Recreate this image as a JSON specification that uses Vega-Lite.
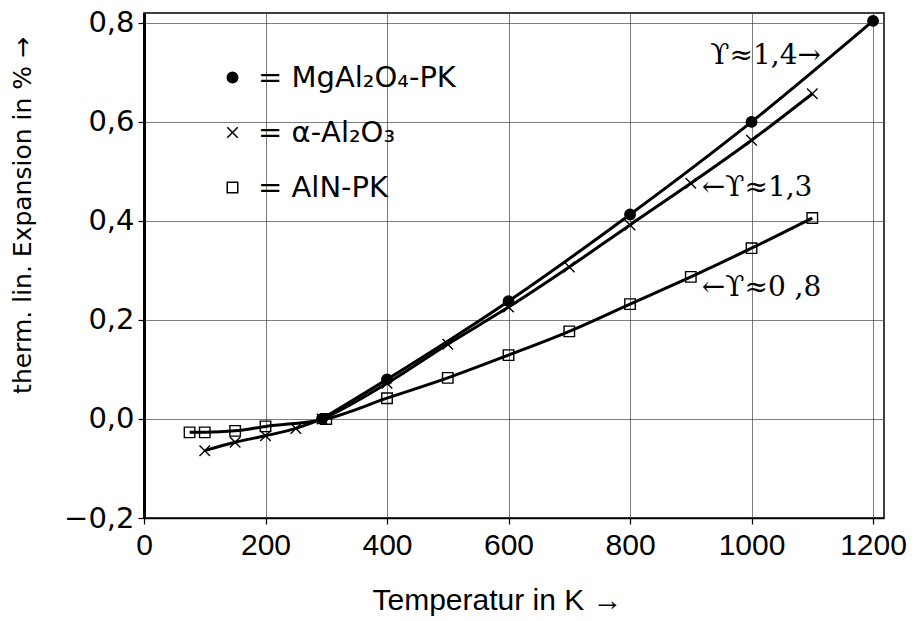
{
  "$schema": "https://vega.github.io/schema/vega-lite/v6.json",
  "width": 740,
  "height": 505,
  "autosize": {"type": "none"},
  "padding": {"left": 144, "top": 13, "right": 32, "bottom": 103},
  "background": "white",
  "config": {
    "view": {"stroke": "black", "strokeWidth": 1.5},
    "font": "DejaVu Sans"
  },
  "datasets": {
    "measurements": [
      {"series": "MgAl₂O₄-PK", "T": 293, "dL": 0.0},
      {"series": "MgAl₂O₄-PK", "T": 400, "dL": 0.080},
      {"series": "MgAl₂O₄-PK", "T": 600, "dL": 0.238},
      {"series": "MgAl₂O₄-PK", "T": 800, "dL": 0.413},
      {"series": "MgAl₂O₄-PK", "T": 1000, "dL": 0.600},
      {"series": "MgAl₂O₄-PK", "T": 1200, "dL": 0.804},
      {"series": "α-Al₂O₃", "T": 100, "dL": -0.064},
      {"series": "α-Al₂O₃", "T": 150, "dL": -0.047},
      {"series": "α-Al₂O₃", "T": 200, "dL": -0.034},
      {"series": "α-Al₂O₃", "T": 250, "dL": -0.019},
      {"series": "α-Al₂O₃", "T": 293, "dL": 0.0},
      {"series": "α-Al₂O₃", "T": 400, "dL": 0.072},
      {"series": "α-Al₂O₃", "T": 500, "dL": 0.151},
      {"series": "α-Al₂O₃", "T": 600, "dL": 0.226},
      {"series": "α-Al₂O₃", "T": 700, "dL": 0.307},
      {"series": "α-Al₂O₃", "T": 800, "dL": 0.392},
      {"series": "α-Al₂O₃", "T": 900, "dL": 0.476},
      {"series": "α-Al₂O₃", "T": 1000, "dL": 0.563},
      {"series": "α-Al₂O₃", "T": 1100, "dL": 0.657},
      {"series": "AlN-PK", "T": 75, "dL": -0.027},
      {"series": "AlN-PK", "T": 100, "dL": -0.027},
      {"series": "AlN-PK", "T": 150, "dL": -0.024},
      {"series": "AlN-PK", "T": 200, "dL": -0.015},
      {"series": "AlN-PK", "T": 300, "dL": 0.0},
      {"series": "AlN-PK", "T": 400, "dL": 0.042},
      {"series": "AlN-PK", "T": 500, "dL": 0.083},
      {"series": "AlN-PK", "T": 600, "dL": 0.129},
      {"series": "AlN-PK", "T": 700, "dL": 0.177},
      {"series": "AlN-PK", "T": 800, "dL": 0.232},
      {"series": "AlN-PK", "T": 900, "dL": 0.287},
      {"series": "AlN-PK", "T": 1000, "dL": 0.345},
      {"series": "AlN-PK", "T": 1100, "dL": 0.406}
    ],
    "notes": [
      {"T": 932, "dL": 0.733, "note": "ϒ≈1,4→"},
      {"T": 918, "dL": 0.466, "note": "←ϒ≈1,3"},
      {"T": 918, "dL": 0.265, "note": "←ϒ≈0 ,8"}
    ]
  },
  "encoding": {
    "x": {
      "field": "T",
      "type": "quantitative",
      "scale": {"domain": [0, 1218], "nice": false, "zero": false},
      "axis": {
        "values": [0, 200, 400, 600, 800, 1000, 1200],
        "format": "d",
        "grid": true,
        "gridColor": "#444",
        "gridWidth": 0.7,
        "domainColor": "black",
        "domainWidth": 1.5,
        "tickColor": "black",
        "tickWidth": 1.2,
        "tickSize": 6,
        "labelFont": "Liberation Sans",
        "labelFontSize": 30,
        "labelColor": "black",
        "labelPadding": 6,
        "labelFlush": false,
        "title": "Temperatur in K →",
        "titleFont": "Liberation Sans",
        "titleFontSize": 30,
        "titleFontWeight": "normal",
        "titleColor": "black",
        "titleX": 353,
        "titleY": 82,
        "titleAlign": "center",
        "titleBaseline": "middle"
      }
    },
    "y": {
      "field": "dL",
      "type": "quantitative",
      "scale": {"domain": [-0.2, 0.82], "nice": false, "zero": false},
      "axis": {
        "values": [-0.2, 0, 0.2, 0.4, 0.6, 0.8],
        "labelExpr": "replace(format(datum.value, '.1f'), '.', ',')",
        "grid": true,
        "gridColor": "#444",
        "gridWidth": 0.7,
        "domainColor": "black",
        "domainWidth": 3,
        "tickColor": "black",
        "tickWidth": 1.2,
        "tickSize": 6,
        "labelFont": "DejaVu Sans",
        "labelFontSize": 29,
        "labelColor": "black",
        "labelPadding": 4,
        "labelFlush": false,
        "title": "therm. lin. Expansion in % →",
        "titleFont": "DejaVu Sans",
        "titleFontSize": 25,
        "titleFontWeight": "normal",
        "titleColor": "black",
        "titleAngle": -90,
        "titleX": -122,
        "titleY": 202,
        "titleAlign": "center",
        "titleBaseline": "middle"
      }
    }
  },
  "layer": [
    {
      "data": {"values": [{}]},
      "mark": {"type": "rule", "color": "black", "strokeWidth": 2.5},
      "encoding": {"y": {"datum": 0}, "x": null}
    },
    {
      "data": {"name": "measurements"},
      "mark": {"type": "line", "color": "black", "strokeWidth": 3, "interpolate": "monotone"},
      "encoding": {"detail": {"field": "series", "type": "nominal"}}
    },
    {
      "data": {"name": "measurements"},
      "mark": {"type": "point", "stroke": "black", "strokeWidth": 1.4, "size": 110, "opacity": 1},
      "encoding": {
        "shape": {
          "field": "series",
          "type": "nominal",
          "scale": {
            "domain": ["MgAl₂O₄-PK", "α-Al₂O₃", "AlN-PK"],
            "range": ["circle", "M-1,-1L1,1M-1,1L1,-1", "square"]
          },
          "legend": {
            "orient": "none",
            "legendX": 74,
            "legendY": 50,
            "title": null,
            "padding": 0,
            "labelFont": "DejaVu Sans",
            "labelFontSize": 29,
            "labelColor": "black",
            "labelLimit": 500,
            "labelOffset": 11,
            "rowPadding": 25,
            "symbolSize": 110,
            "labelExpr": "'= ' + datum.label",
            "encode": {
              "symbols": {
                "update": {
                  "stroke": {"value": "black"},
                  "strokeWidth": {"value": 1.4}
                }
              }
            }
          }
        },
        "fill": {
          "field": "series",
          "type": "nominal",
          "scale": {
            "domain": ["MgAl₂O₄-PK", "α-Al₂O₃", "AlN-PK"],
            "range": ["black", "transparent", "transparent"]
          }
        }
      }
    },
    {
      "data": {"name": "notes"},
      "mark": {"type": "text", "font": "DejaVu Serif", "fontSize": 28, "align": "left", "baseline": "middle", "color": "black"},
      "encoding": {"text": {"field": "note", "type": "nominal"}}
    }
  ]
}
